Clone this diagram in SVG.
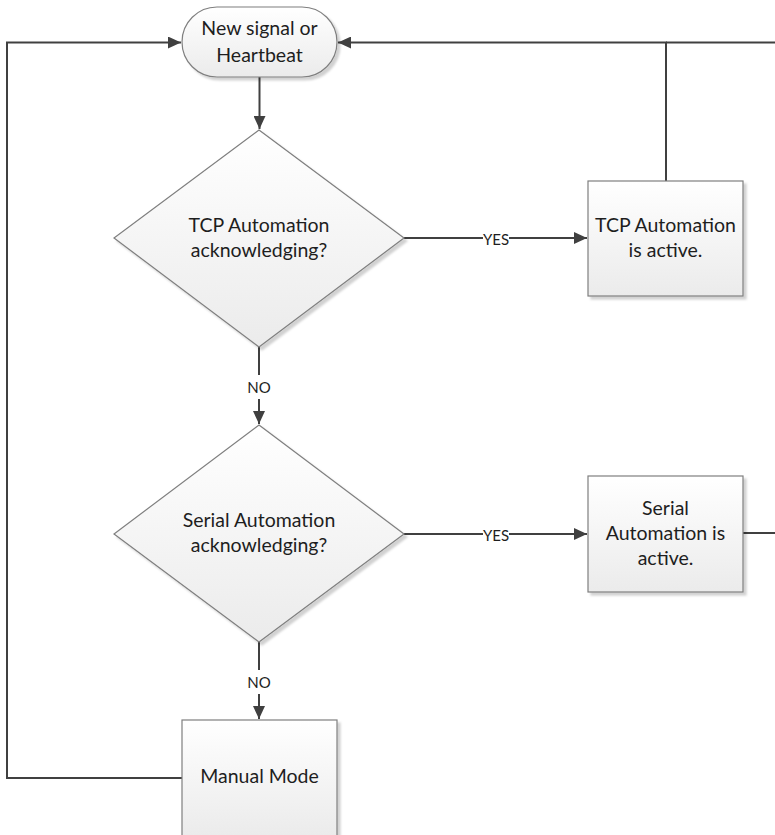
<svg xmlns="http://www.w3.org/2000/svg" width="775" height="835" viewBox="0 0 775 835">
<style>
.node{fill:url(#g);stroke:#7f7f7f;stroke-width:1.2}
.t{font-family:Lato,"Liberation Sans",sans-serif;font-size:19.5px;fill:#1e1e1e;text-anchor:middle}
.lbl{font-family:Lato,"Liberation Sans",sans-serif;font-size:15px;fill:#1e1e1e;text-anchor:middle;dominant-baseline:central}
.c{fill:none;stroke:#404040;stroke-width:2}
</style>
<defs>
<linearGradient id="g" x1="0" y1="0" x2="0" y2="1">
<stop offset="0" stop-color="#ffffff"/>
<stop offset="1" stop-color="#ebebeb"/>
</linearGradient>
<filter id="sh" x="-10%" y="-10%" width="130%" height="130%">
<feDropShadow dx="3" dy="3" stdDeviation="1.2" flood-color="#000" flood-opacity="0.18"/>
</filter>
<marker id="ar" markerUnits="userSpaceOnUse" markerWidth="14" markerHeight="12" refX="13" refY="6" orient="auto">
<path d="M0,0 L13,6 L0,12 Z" fill="#404040"/>
</marker>
</defs>
<g id="connectors">
<path class="c" d="M259.5,77 V129" marker-end="url(#ar)"/>
<path class="c" d="M404,238 H587" marker-end="url(#ar)"/>
<path class="c" d="M666,181 V42.5 H338" marker-end="url(#ar)"/>
<path class="c" d="M775,42.5 H666"/>
<path class="c" d="M743,533 H775"/>
<path class="c" d="M259,347 V424" marker-end="url(#ar)"/>
<path class="c" d="M404,534 H587" marker-end="url(#ar)"/>
<path class="c" d="M259,642 V719" marker-end="url(#ar)"/>
<path class="c" d="M182,778 H7 V42.5 H181" marker-end="url(#ar)"/>
<g>
<rect x="483" y="229" width="26" height="18" fill="#fff"/>
<text class="lbl" x="496" y="239">YES</text>
<rect x="483" y="525" width="26" height="18" fill="#fff"/>
<text class="lbl" x="496" y="535">YES</text>
<rect x="246" y="375" width="26" height="24" fill="#fff"/>
<text class="lbl" x="259" y="387">NO</text>
<rect x="246" y="670" width="26" height="24" fill="#fff"/>
<text class="lbl" x="259" y="682">NO</text>
</g>
</g>
<g id="start">
<rect class="node" filter="url(#sh)" x="182" y="7" width="155" height="70" rx="35" ry="35"/>
<text class="t" x="259.5" y="35">New signal or</text>
<text class="t" x="259.5" y="62">Heartbeat</text>
</g>
<g id="tcp-decision">
<polygon class="node" filter="url(#sh)" points="259,130 404,238 259,347 114,238"/>
<text class="t" x="259" y="232">TCP Automation</text>
<text class="t" x="259" y="257">acknowledging?</text>
</g>
<g id="tcp-active">
<rect class="node" filter="url(#sh)" x="588" y="181" width="155" height="115"/>
<text class="t" x="665.5" y="232">TCP Automation</text>
<text class="t" x="665.5" y="257">is active.</text>
</g>
<g id="serial-decision">
<polygon class="node" filter="url(#sh)" points="259,425 404,534 259,642 114,534"/>
<text class="t" x="259" y="527">Serial Automation</text>
<text class="t" x="259" y="552">acknowledging?</text>
</g>
<g id="serial-active">
<rect class="node" filter="url(#sh)" x="588" y="476" width="155" height="116"/>
<text class="t" x="665.5" y="515">Serial</text>
<text class="t" x="665.5" y="540">Automation is</text>
<text class="t" x="665.5" y="565">active.</text>
</g>
<g id="manual">
<rect class="node" filter="url(#sh)" x="182" y="720" width="155" height="116"/>
<text class="t" x="259.5" y="783">Manual Mode</text>
</g>
</svg>
